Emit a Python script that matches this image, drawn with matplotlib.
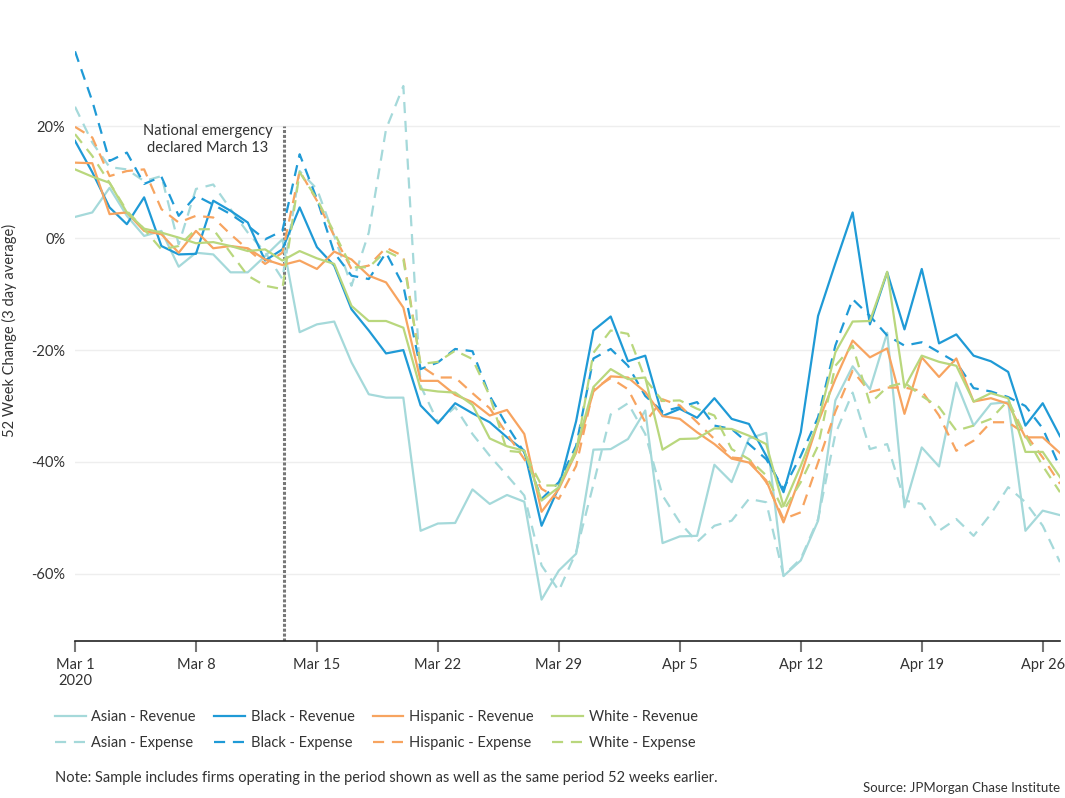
import pandas as pd
import matplotlib.pyplot as plt

plt.rcParams['font.family'] = ['Lato', 'DejaVu Sans']

dates = pd.date_range('2020-03-01', periods=58, freq='D')

asian_rev = [3.8, 4.6, 9.0, 4.0, 0.4, 1.3, -5.1, -2.6, -2.9, -6.1, -6.1, -3.2, -0.2, -16.8, -15.4,
             -14.9, -22.2, -27.9, -28.5, -28.5, -52.3, -51.0, -50.9, -44.9, -47.5, -45.9, -47.1, -64.6, -59.4,
             -56.4, -37.8, -37.7, -35.9, -30.8, -54.5, -53.3, -53.2, -40.5, -43.6, -35.8, -34.8, -60.4, -57.6,
             -50.5, -29.0, -22.9, -27.0, -16.9, -48.1, -37.4, -40.8, -25.8, -33.5, -29.6, -29.3, -52.3, -48.7, -49.5]
black_rev = [17.4, 11.8, 5.5, 2.5, 7.3, -1.4, -2.9, -2.8, 6.7, 4.9, 2.8, -4.0, -2.0, 5.5, -1.6,
             -4.9, -12.7, -16.5, -20.6, -20.0, -29.9, -33.1, -29.5, -31.3, -32.9, -35.6, -38.0, -51.4, -44.5,
             -32.7, -16.5, -14.0, -22.0, -21.0, -31.8, -30.5, -32.1, -28.6, -32.3, -33.2, -38.9, -45.4, -34.7,
             -13.9, -4.5, 4.6, -15.4, -6.1, -16.3, -5.5, -18.8, -17.2, -21.0, -22.0, -23.9, -33.5, -29.5, -35.4]
hisp_rev = [13.5, 13.4, 4.3, 4.6, 1.3, 0.7, -2.6, 1.3, -1.8, -1.4, -1.8, -3.8, -4.8, -4.0, -5.5,
            -2.4, -3.8, -6.7, -7.9, -12.4, -25.5, -25.5, -28.0, -29.3, -31.7, -30.7, -35.0, -48.9, -44.8,
            -38.3, -27.4, -24.7, -24.9, -27.5, -31.8, -32.3, -34.7, -36.8, -39.4, -40.1, -43.3, -50.8, -42.4,
            -32.9, -25.2, -18.3, -21.3, -19.7, -31.4, -21.3, -24.8, -21.5, -29.2, -28.6, -29.6, -35.6, -35.6, -38.4]
white_rev = [12.3, 11.0, 9.9, 4.6, 1.7, 1.0, 0.1, -0.9, -0.7, -1.4, -2.3, -2.0, -4.0, -2.3, -3.6,
             -4.6, -12.1, -14.8, -14.8, -16.0, -27.0, -27.4, -27.6, -29.8, -35.8, -37.2, -38.0, -46.9, -44.5,
             -37.7, -26.6, -23.4, -25.2, -24.9, -37.8, -35.9, -35.8, -34.0, -34.1, -35.3, -36.8, -47.9, -40.7,
             -32.9, -20.4, -14.9, -14.8, -6.0, -26.7, -21.0, -22.1, -22.8, -29.2, -27.7, -28.6, -38.2, -38.2, -42.7]

asian_exp = [23.5, 17.1, 12.7, 12.3, 10.2, 11.1, -1.1, 8.8, 9.6, 5.2, 1.0, -2.5, -7.3, 12.0, 8.8,
             0.4, -8.5, 1.0, 19.5, 27.2, -26.4, -32.9, -30.2, -35.0, -38.9, -42.4, -46.0, -58.5, -63.0,
             -56.1, -44.0, -31.5, -29.5, -35.0, -46.0, -50.8, -54.3, -51.4, -50.5, -46.6, -47.2, -60.3, -57.3,
             -50.2, -35.0, -27.6, -37.7, -36.8, -46.9, -47.5, -52.3, -50.2, -53.2, -49.3, -44.5, -47.2, -51.4, -57.9]
black_exp = [33.4, 24.5, 13.8, 15.3, 9.7, 11.0, 4.0, 7.6, 6.0, 4.3, 2.2, -0.2, 1.3, 15.0, 7.0,
             -2.6, -6.7, -7.3, -2.6, -8.5, -23.4, -22.2, -19.8, -20.2, -28.2, -33.5, -38.3, -46.6, -43.6,
             -37.1, -21.5, -19.8, -22.8, -28.2, -31.0, -30.2, -29.3, -33.5, -34.1, -36.8, -39.5, -44.8, -38.9,
             -32.0, -19.2, -10.9, -13.9, -17.4, -19.2, -18.6, -20.4, -22.2, -26.8, -27.4, -28.4, -30.0, -34.0, -41.0]
hisp_exp = [19.9, 18.0, 11.1, 12.0, 12.3, 5.2, 2.8, 4.0, 3.7, 0.7, -2.0, -4.6, -2.6, 12.0, 6.7,
            0.4, -5.5, -4.9, -1.7, -3.2, -22.8, -24.9, -24.9, -27.7, -30.4, -35.0, -39.5, -44.8, -46.6,
            -40.7, -27.0, -25.0, -27.0, -32.9, -28.8, -29.9, -32.9, -35.9, -39.2, -39.5, -43.6, -50.2, -49.0,
            -40.1, -31.0, -23.7, -27.5, -26.7, -26.7, -27.3, -31.7, -38.0, -36.2, -32.9, -32.9, -35.0, -39.2, -43.9]
white_exp = [18.6, 14.7, 9.9, 4.9, 1.6, -2.0, -1.4, 1.6, 1.6, -2.6, -6.7, -8.5, -9.1, 11.8, 7.0,
             1.0, -5.2, -5.2, -2.3, -3.8, -22.5, -22.1, -20.1, -21.6, -28.2, -38.0, -38.3, -44.2, -44.2,
             -38.3, -20.5, -16.5, -17.1, -25.2, -29.1, -29.0, -30.5, -31.7, -37.7, -39.5, -42.4, -48.7, -43.6,
             -37.1, -22.8, -19.2, -29.6, -26.6, -25.8, -28.2, -30.2, -34.4, -33.5, -32.3, -29.0, -35.3, -40.7, -45.4]

groups = ['Asian', 'Black', 'Hispanic', 'White']
colors = ['#a5d9da', '#1f9ad6', '#f7a460', '#b9d77d']
revenue = [asian_rev, black_rev, hisp_rev, white_rev]
expense = [asian_exp, black_exp, hisp_exp, white_exp]

fig = plt.figure(figsize=(10.65, 7.98), dpi=100)
ax = fig.add_axes([75 / 1065, 1 - 641 / 798, 985 / 1065, 621 / 798])

handles = []
for g, c, r, e in zip(groups, colors, revenue, expense):
    h1, = ax.plot(dates, r, color=c, lw=1.6, label=g + ' - Revenue')
    h2, = ax.plot(dates, e, color=c, lw=1.6, dashes=(5, 3.5), label=g + ' - Expense')
    handles += [h1, h2]

# emergency marker
emerg = pd.Timestamp('2020-03-13 02:00')
ax.plot([emerg, emerg], [-72, 20], color='#777777', lw=2.2, ls=(0, (1, 0.6)), zorder=1)
ax.text(pd.Timestamp('2020-03-08 16:00'), 17.6, 'National emergency\ndeclared March 13',
        ha='center', va='center', fontsize=10.5, color='#333333', linespacing=1.3)

ax.set_xlim(dates[0], dates[-1])
ax.set_ylim(-72, 39)
ax.set_yticks([20, 0, -20, -40, -60])
ax.set_yticklabels(['20%', '0%', '-20%', '-40%', '-60%'])
ax.grid(axis='y', color='#eeeeee', lw=1)
ax.set_axisbelow(True)

ticks = pd.date_range('2020-03-01', '2020-04-26', freq='7D')
ax.set_xticks(ticks)
ax.set_xticklabels(['Mar 1\n2020'] + [d.strftime('%b ') + str(d.day) for d in ticks[1:]])
ax.tick_params(axis='x', length=8, width=1.5, color='#777777', labelsize=10.5,
               labelcolor='#333333', pad=4)
ax.tick_params(axis='y', length=0, labelsize=10.5, labelcolor='#333333', pad=7)
for s in ['top', 'right', 'left']:
    ax.spines[s].set_visible(False)
ax.spines['bottom'].set_color('#222222')
ax.spines['bottom'].set_linewidth(1.2)
ax.set_ylabel('52 Week Change (3 day average)', fontsize=10.5, color='#333333', labelpad=10)

fig.legend(handles=handles, loc='upper left', bbox_to_anchor=(55 / 1065, 1 - 710 / 798), ncol=4,
           frameon=False, fontsize=10.5, handlelength=2.1, columnspacing=1.25, labelcolor='#333333',
           handletextpad=0.4, labelspacing=0.85, borderpad=0, borderaxespad=0)

fig.text(55 / 1065, 1 - 778 / 798, 'Note: Sample includes firms operating in the period shown as well as '
         'the same period 52 weeks earlier.', fontsize=10.5, color='#333333', va='center')
fig.text(1060 / 1065, 1 - 788 / 798, 'Source: JPMorgan Chase Institute', fontsize=9.5,
         color='#333333', ha='right', va='center')

fig.savefig('out.png', dpi=100)
